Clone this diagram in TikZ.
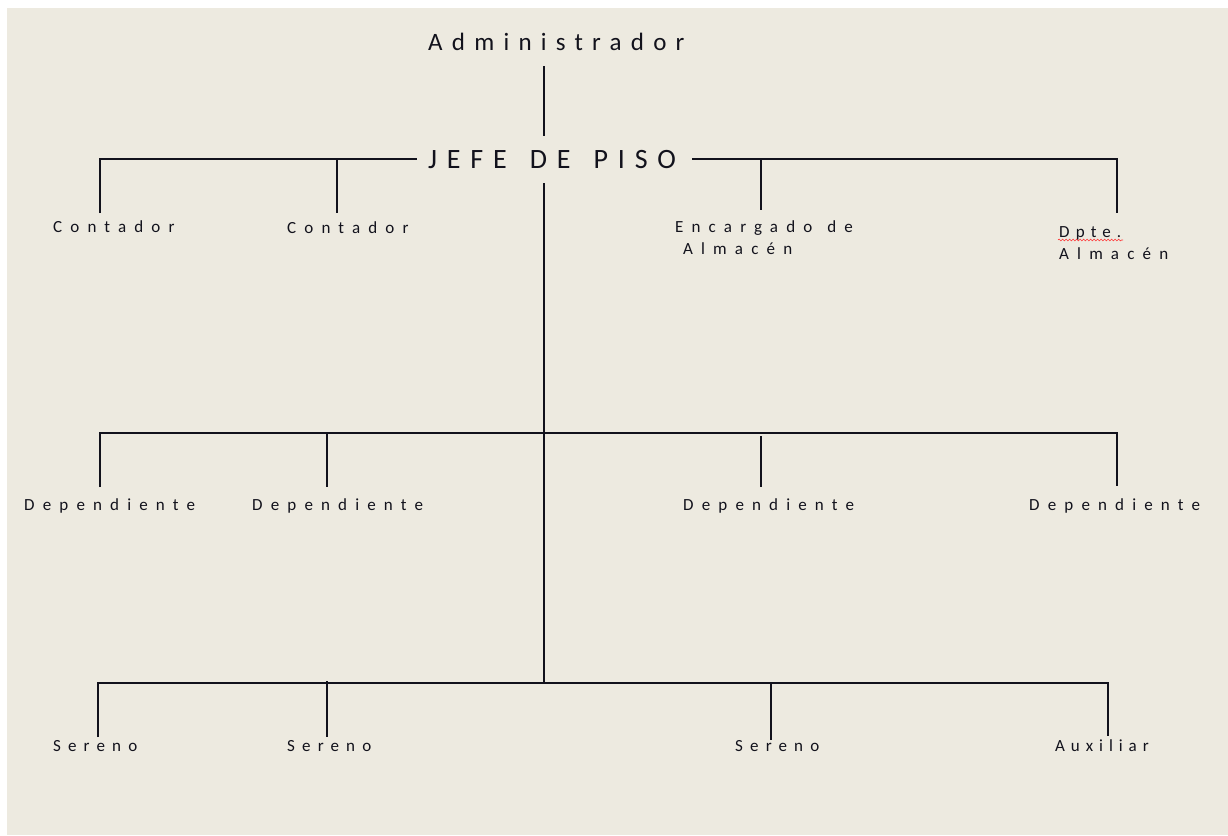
\documentclass[tikz,border=0pt]{standalone}
\usepackage{fontspec}
\setmainfont{Carlito}
\usetikzlibrary{decorations.pathmorphing}
\definecolor{bg}{RGB}{237,234,224}
\definecolor{ink}{RGB}{18,18,28}
\newfontfamily\lblfont[LetterSpace=48]{Carlito}
\newfontfamily\serfont[LetterSpace=42]{Carlito}
\newfontfamily\auxfont[LetterSpace=35]{Carlito}
\newfontfamily\dptfont[LetterSpace=36]{Carlito}
\newfontfamily\admfont[LetterSpace=37]{Carlito}
\newfontfamily\jefefont[LetterSpace=35]{Carlito}
\begin{document}
\begin{tikzpicture}[x=1pt,y=-1pt,
  lbl/.style={anchor=base west, inner sep=0pt, text=ink, font=\lblfont\fontsize{17}{22}\selectfont},
  conn/.style={draw=ink, line width=1.1pt}]
\useasboundingbox (0,0) rectangle (1228,835);
\fill[white] (0,0) rectangle (1228,835);
\fill[bg] (7,8) rectangle (1228,835);
% nodes
\node[lbl, font=\admfont\fontsize{25}{30}\selectfont] (adm) at (428,50) {Administrador};
\node[lbl, font=\jefefont\fontsize{28}{32}\selectfont] (jefe) at (428,168) {JEFE\hspace{7pt} DE\hspace{7pt} PISO};
\node[lbl] (cont1) at (53,232) {Contador};
\node[lbl] (cont2) at (287,233) {Contador};
\node[lbl] (enc1) at (675,232) {Encargado\hspace{3pt} de};
\node[lbl] (enc2) at (683,254) {Almacén};
\node[lbl, font=\dptfont\fontsize{17}{22}\selectfont] (dpt1) at (1059,237) {Dpte.};
\node[lbl] (dpt2) at (1059,259) {Almacén};
\node[lbl] (dep1) at (24,510) {Dependiente};
\node[lbl] (dep2) at (252,510) {Dependiente};
\node[lbl] (dep3) at (683,510) {Dependiente};
\node[lbl] (dep4) at (1029,510) {Dependiente};
\node[lbl, font=\serfont\fontsize{17}{22}\selectfont] (ser1) at (53,751) {Sereno};
\node[lbl, font=\serfont\fontsize{17}{22}\selectfont] (ser2) at (287,751) {Sereno};
\node[lbl, font=\serfont\fontsize{17}{22}\selectfont] (ser3) at (735,751) {Sereno};
\node[lbl, font=\auxfont\fontsize{17}{22}\selectfont] (aux) at (1055,751) {Auxiliar};
% coordinates
\coordinate (admB) at (544,66);
\coordinate (jefeT) at (544,136);
\coordinate (jefeB) at (544,183);
\coordinate (jefeL) at (417,159);
\coordinate (jefeR) at (692,159);
\coordinate (tL) at (100,159);
\coordinate (tR) at (1117,159);
\coordinate (tC2) at (337,159);
\coordinate (tE) at (761,159);
\coordinate (c1T) at (100,213);
\coordinate (c2T) at (337,213);
\coordinate (eT) at (761,210);
\coordinate (dT) at (1117,213);
\coordinate (mL) at (100,433);
\coordinate (mR) at (1117,433);
\coordinate (m2) at (327,433);
\coordinate (m3) at (761,436);
\coordinate (d1T) at (100,487);
\coordinate (d2T) at (327,487);
\coordinate (d3T) at (761,487);
\coordinate (d4T) at (1117,486);
\coordinate (bC) at (544,683);
\coordinate (bL) at (98,683);
\coordinate (bR) at (1108,683);
\coordinate (b2) at (327,681);
\coordinate (b3) at (771,683);
\coordinate (s1T) at (98,737);
\coordinate (s2T) at (327,737);
\coordinate (s3T) at (771,740);
\coordinate (aT) at (1108,736);
% connectors
\draw[conn] (admB) -- (jefeT);
\draw[conn] (c1T) -- (tL) -- (jefeL);
\draw[conn] (tC2) -- (c2T);
\draw[conn] (jefeR) -- (tR) -- (dT);
\draw[conn] (tE) -- (eT);
\draw[conn] (jefeB) -- (bC);
\draw[conn] (d1T) -- (mL) -- (mR) -- (d4T);
\draw[conn] (m2) -- (d2T);
\draw[conn] (m3) -- (d3T);
\draw[conn] (s1T) -- (bL) -- (bR) -- (aT);
\draw[conn] (b2) -- (s2T);
\draw[conn] (b3) -- (s3T);
% spell-check underline
\coordinate (wS) at (1058,240);
\coordinate (wE) at (1123,240);
\draw[red!80, line width=0.6pt, decorate, decoration={snake, amplitude=0.9pt, segment length=3.5pt}] (wS) -- (wE);
\end{tikzpicture}
\end{document}
